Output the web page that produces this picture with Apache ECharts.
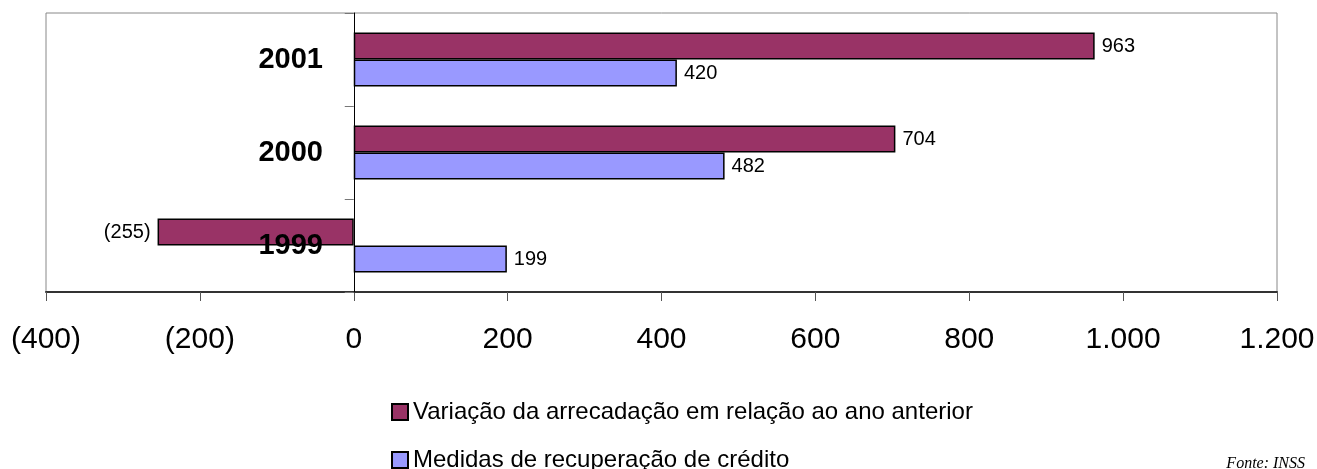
<!DOCTYPE html>
<html>
<head>
<meta charset="utf-8">
<script src="https://cdn.jsdelivr.net/npm/echarts@6/dist/echarts.min.js"></script>
<style>
  html, body { margin: 0; padding: 0; background: #fff; }
  #chart { width: 1317px; height: 469px; }
</style>
</head>
<body>
<div id="chart"></div>
<script>
var anos = ['1999', '2000', '2001'];
var variacao = [-255, 704, 963];
var medidas = [199, 482, 420];
var xTicks = [-400, -200, 0, 200, 400, 600, 800, 1000, 1200];

var nomeVariacao = 'Variação da arrecadação em relação ao ano anterior';
var nomeMedidas = 'Medidas de recuperação de crédito';

function fmt(v){
  var s = String(Math.abs(v)).replace(/\B(?=(\d{3})+(?!\d))/g, '.');
  return v < 0 ? '(' + s + ')' : s;
}

var fonte = '"Liberation Sans", Arial, sans-serif';

function barLabels(vals){
  return vals.map(function(v){
    return {
      value: v,
      label: { position: v < 0 ? 'left' : 'right' }
    };
  });
}

function legenda(nome, top){
  return {
    orient: 'vertical',
    left: 391, top: top,
    icon: 'rect',
    itemWidth: 16, itemHeight: 16,
    padding: 0,
    data: [nome],
    textStyle: { fontSize: 24, color: '#000', fontFamily: fonte, padding: [0, 0, 0, 0] }
  };
}

var chart_div = echarts.init(document.getElementById('chart'));
option = {
  animation: false,
  textStyle: { fontFamily: fonte },
  grid: {
    left: 46, right: 40, top: 13, bottom: 177,
    outerBoundsMode: 'none',
    containLabel: false,
    show: true, borderColor: '#888', borderWidth: 1
  },
  legend: [legenda(nomeVariacao, 400), legenda(nomeMedidas, 448)],
  xAxis: {
    type: 'value',
    min: xTicks[0], max: xTicks[xTicks.length - 1], interval: 200,
    axisLine: { show: true, onZero: false, lineStyle: { color: '#333', width: 2 } },
    axisTick: { show: true, length: 9, lineStyle: { color: '#555' } },
    axisLabel: { formatter: fmt, fontSize: 30, color: '#000', margin: 33, fontFamily: fonte },
    splitLine: { show: false }
  },
  yAxis: {
    type: 'category',
    z: 10,
    data: anos,
    axisLine: { onZero: true, lineStyle: { color: '#000', width: 1 } },
    axisTick: { show: true, length: 9, lineStyle: { color: '#777' } },
    axisLabel: { fontSize: 29, fontWeight: 'bold', color: '#000', margin: -277, padding: [5, 0, 0, 0], fontFamily: fonte },
    splitLine: { show: false }
  },
  series: [
    {
      name: nomeVariacao,
      type: 'bar',
      data: barLabels(variacao),
      barWidth: 27,
      barGap: '0%',
      itemStyle: { color: '#993366', borderColor: '#000', borderWidth: 1.5 },
      label: { show: true, formatter: function(p){ return fmt(p.value); }, fontSize: 20, color: '#000', distance: 7 }
    },
    {
      name: nomeMedidas,
      type: 'bar',
      data: barLabels(medidas),
      barWidth: 27,
      barGap: '0%',
      itemStyle: { color: '#9999FF', borderColor: '#000', borderWidth: 1.5 },
      label: { show: true, formatter: function(p){ return fmt(p.value); }, fontSize: 20, color: '#000', distance: 7 }
    }
  ],
  graphic: [
    {
      type: 'text',
      right: 12, bottom: -3,
      style: { text: 'Fonte: INSS', font: 'italic 16px "Liberation Serif", "Times New Roman", serif', fill: '#000' }
    }
  ]
};
chart_div.setOption(option);
</script>
</body>
</html>
